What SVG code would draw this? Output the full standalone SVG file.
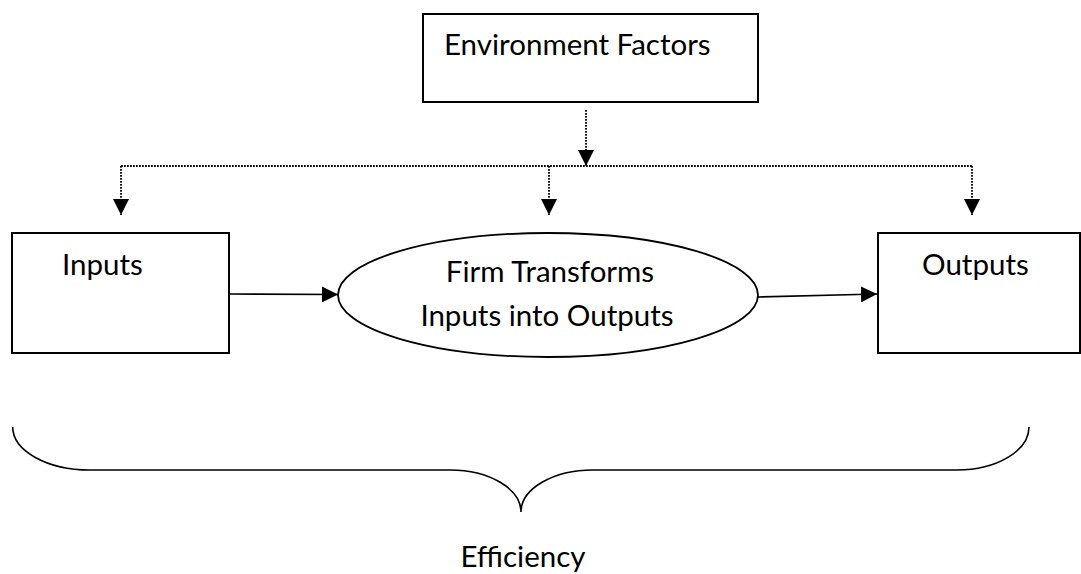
<svg xmlns="http://www.w3.org/2000/svg" width="1081" height="574" viewBox="0 0 1081 574">
  <style>
    .box { fill: #ffffff; stroke: #000000; stroke-width: 2; }
    .oval { fill: #ffffff; stroke: #000000; stroke-width: 1.8; }
    .label { font-family: Lato, "Open Sans", sans-serif; font-size: 29.5px; fill: #000000; }
    .dotted { fill: none; stroke: #000000; stroke-width: 1.8; stroke-dasharray: 1.8 1.2; }
    .solid { fill: none; stroke: #000000; stroke-width: 1.6; }
    .brace { fill: none; stroke: #000000; stroke-width: 1.6; }
  </style>
  <defs>
    <marker id="head" markerUnits="userSpaceOnUse" markerWidth="16" markerHeight="16" viewBox="0 0 16 16" refX="16" refY="8" orient="auto">
      <path d="M0,0 L16,8 L0,16 Z" fill="#000000"/>
    </marker>
  </defs>

  <rect width="1081" height="574" fill="#ffffff"/>

  <g id="connectors">
    <!-- environment influence, dotted -->
    <line class="dotted" x1="586" y1="110" x2="586" y2="166" marker-end="url(#head)"/>
    <line class="dotted" x1="121" y1="166" x2="972" y2="166"/>
    <line class="dotted" x1="121" y1="166" x2="121" y2="215" marker-end="url(#head)"/>
    <line class="dotted" x1="549" y1="166" x2="549" y2="215" marker-end="url(#head)"/>
    <line class="dotted" x1="972" y1="166" x2="972" y2="215" marker-end="url(#head)"/>
    <!-- process flow -->
    <line class="solid" x1="229" y1="294" x2="338" y2="294.5" marker-end="url(#head)"/>
    <line class="solid" x1="757" y1="297" x2="877" y2="294" marker-end="url(#head)"/>
  </g>

  <g id="environment">
    <rect class="box" x="423" y="14" width="335" height="88"/>
    <text class="label" x="444" y="55">Environment Factors</text>
  </g>

  <g id="inputs">
    <rect class="box" x="12" y="233" width="217" height="120"/>
    <text class="label" x="62" y="275">Inputs</text>
  </g>

  <g id="firm">
    <ellipse class="oval" cx="548" cy="295" rx="210" ry="62"/>
    <text class="label" x="550" y="282" text-anchor="middle">Firm Transforms</text>
    <text class="label" x="547" y="326" text-anchor="middle">Inputs into Outputs</text>
  </g>

  <g id="outputs">
    <rect class="box" x="878" y="233" width="202" height="120"/>
    <text class="label" x="922" y="275">Outputs</text>
  </g>

  <g id="efficiency">
    <path class="brace" d="M12.7,427 A77,43 0 0 0 90,470 L450,470 A71,42 0 0 1 521,512 A72,42 0 0 1 593,470 L957,470 A72,43 0 0 0 1029,427"/>
    <text class="label" x="523" y="567" text-anchor="middle">Efficiency</text>
  </g>
</svg>
